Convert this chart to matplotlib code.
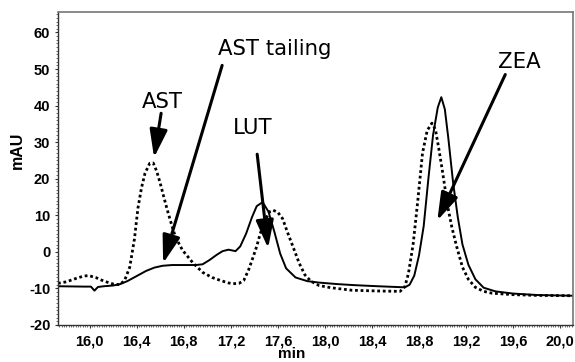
import matplotlib
matplotlib.use("Agg")
import matplotlib.pyplot as plt
from matplotlib.ticker import MultipleLocator

# ---- data ----
solid_x = [15.73, 15.95, 16.01, 16.04, 16.07, 16.12, 16.20, 16.26, 16.32, 16.40, 16.48,
           16.55, 16.62, 16.70, 16.80, 16.90, 16.96, 17.02, 17.08, 17.13, 17.18, 17.24,
           17.28, 17.33, 17.38, 17.42, 17.47, 17.52, 17.57, 17.62, 17.67, 17.75, 17.85,
           17.95, 18.10, 18.25, 18.45, 18.68, 18.72, 18.76, 18.80, 18.84, 18.88, 18.92,
           18.96, 18.99, 19.02, 19.05, 19.09, 19.13, 19.17, 19.22, 19.28, 19.35, 19.45,
           19.60, 19.80, 20.11]
solid_y = [-9.4, -9.5, -9.5, -10.6, -9.6, -9.4, -9.2, -8.8, -8.0, -6.6, -5.2,
           -4.3, -3.8, -3.6, -3.6, -3.6, -3.4, -2.2, -0.8, 0.2, 0.6, 0.2,
           1.5, 5.0, 9.5, 12.5, 13.6, 11.0, 5.5, -0.5, -4.5, -7.0, -8.0,
           -8.4, -8.8, -9.1, -9.4, -9.7, -9.0, -6.5, -1.0, 7.0, 20.0, 32.0,
           39.5, 42.3, 39.0, 31.0, 19.0, 9.5, 2.0, -3.5, -7.5, -9.8, -10.8,
           -11.4, -11.8, -12.0]

dotted_x = [15.73, 15.80, 15.88, 15.95, 15.99, 16.05, 16.12, 16.20, 16.26, 16.30, 16.34,
            16.38, 16.41, 16.44, 16.47, 16.51, 16.54, 16.57, 16.60, 16.63, 16.66, 16.70,
            16.73, 16.79, 16.88, 16.96, 17.04, 17.11, 17.18, 17.22, 17.27, 17.31, 17.35,
            17.38, 17.42, 17.45, 17.49, 17.53, 17.56, 17.60, 17.64, 17.68, 17.73, 17.78,
            17.83, 17.88, 17.95, 18.05, 18.23, 18.45, 18.64, 18.68, 18.71, 18.75, 18.79,
            18.83, 18.87, 18.91, 18.94, 18.97, 19.00, 19.02, 19.05, 19.08, 19.12, 19.17,
            19.22, 19.28, 19.35, 19.42, 19.60, 19.80, 20.11]
dotted_y = [-8.6, -8.2, -7.3, -6.6, -6.5, -7.0, -8.0, -8.8, -9.0, -7.5, -4.2,
            3.5, 12.0, 17.5, 21.5, 24.2, 24.3, 22.0, 18.7, 15.0, 11.4, 7.0,
            4.0, 0.4, -3.1, -5.6, -7.0, -7.8, -8.5, -8.7, -8.6, -7.8, -5.0,
            -2.3, 1.5, 5.0, 8.6, 11.0, 11.4, 10.8, 9.1, 5.5, 1.3, -3.0,
            -6.3, -8.0, -9.2, -9.8, -10.5, -10.7, -10.8, -9.5, -6.0, 2.0, 14.0,
            27.0, 33.2, 35.2, 33.5, 28.0, 22.0, 17.7, 11.5, 6.7, 1.5, -4.2,
            -7.5, -9.7, -10.8, -11.3, -11.7, -11.9, -12.0]

x_ticks = [16.0, 16.4, 16.8, 17.2, 17.6, 18.0, 18.4, 18.8, 19.2, 19.6, 20.0]
x_tick_labels = ["16,0", "16,4", "16,8", "17,2", "17,6", "18,0", "18,4", "18,8", "19,2", "19,6", "20,0"]
y_ticks = [-20, -10, 0, 10, 20, 30, 40, 50, 60]

# annotations: label, text position, arrow start, arrow tip
labels = ["AST", "AST tailing", "LUT", "ZEA"]
label_pos = [(16.615, 41.1), (17.577, 55.6), (17.39, 33.8), (19.653, 51.8)]
arrow_start = [(16.607, 37.9), (17.126, 51.0), (17.424, 26.7), (19.534, 48.5)]
arrow_tip = [(16.547, 25.8), (16.624, -3.1), (17.517, 1.0), (18.956, 8.6)]

# ---- figure ----
W, H = 575, 362
fig = plt.figure(figsize=(W / 100, H / 100), dpi=100)
ax = fig.add_axes([58 / W, 1 - 325 / H, (573 - 58) / W, (325 - 12) / H])

ax.plot(solid_x, solid_y, color="black", lw=1.4, solid_joinstyle="round")
ax.plot(dotted_x, dotted_y, color="black", lw=2.0, linestyle=(0, (1, 1.0)))

ax.set_xlim(15.73, 20.11)
ax.set_ylim(-20, 65.6)

tick_font = dict(family=["Liberation Sans", "DejaVu Sans"], weight="bold", size=10.5)
ax.set_xticks(x_ticks)
ax.set_xticklabels(x_tick_labels, **tick_font)
ax.set_yticks(y_ticks)
ax.set_yticklabels([str(v) for v in y_ticks], **tick_font)
ax.xaxis.set_minor_locator(MultipleLocator(0.02))
ax.yaxis.set_minor_locator(MultipleLocator(1))
ax.tick_params(axis="both", which="major", length=2.5, width=0.8, color="#333333", pad=3)
ax.tick_params(axis="both", which="minor", length=1.5, width=0.6, color="#555555")
ax.tick_params(axis="x", which="major", pad=4)

for side in ("left", "bottom"):
    ax.spines[side].set_color("#333333")
    ax.spines[side].set_linewidth(1.0)
for side in ("top", "right"):
    ax.spines[side].set_color("#777777")
    ax.spines[side].set_linewidth(1.2)

fig.text(17 / W, 1 - 150 / H, "mAU", rotation=90, ha="center", va="center",
         family=["Liberation Sans", "DejaVu Sans"], weight="bold", size=11.5)
fig.text(292 / W, 1 - 354 / H, "min", ha="center", va="center",
         family=["Liberation Sans", "DejaVu Sans"], weight="bold", size=11)

for lab, tp, st, tip in zip(labels, label_pos, arrow_start, arrow_tip):
    ax.text(tp[0], tp[1], lab, ha="center", va="center", family="DejaVu Sans", size=15.3)
    ax.annotate("", xy=tip, xytext=st,
                arrowprops=dict(arrowstyle="-|>,head_length=0.85,head_width=0.27",
                                lw=2.2, color="black", mutation_scale=20,
                                shrinkA=0, shrinkB=0))

fig.savefig("out.png", dpi=100)
